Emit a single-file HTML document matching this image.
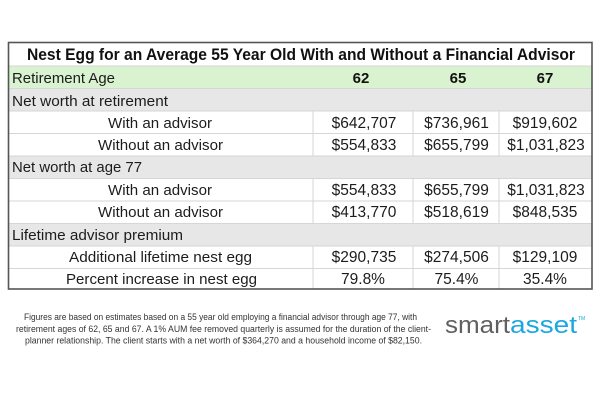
<!DOCTYPE html>
<html>
<head>
<meta charset="utf-8">
<style>
html,body{margin:0;padding:0;background:#fff;}
svg{display:block;}
text{font-family:"Liberation Sans",Arial,sans-serif;}
</style>
</head>
<body>
<svg width="600" height="400" viewBox="0 0 600 400" xmlns="http://www.w3.org/2000/svg">
  <rect x="0" y="0" width="600" height="400" fill="#ffffff"/>

  <!-- row backgrounds -->
  <rect x="8" y="66" width="584" height="22.5" fill="#d9f2d0"/>
  <rect x="8" y="88.5" width="584" height="22.5" fill="#e7e7e7"/>
  <rect x="8" y="156" width="584" height="22.5" fill="#e7e7e7"/>
  <rect x="8" y="223.5" width="584" height="22.5" fill="#e7e7e7"/>

  <!-- horizontal grid lines -->
  <g stroke="#d6d6d6" stroke-width="1">
    <line x1="8" y1="66" x2="592" y2="66"/>
    <line x1="8" y1="88.5" x2="592" y2="88.5"/>
    <line x1="8" y1="111" x2="592" y2="111"/>
    <line x1="8" y1="133.5" x2="592" y2="133.5"/>
    <line x1="8" y1="156" x2="592" y2="156"/>
    <line x1="8" y1="178.5" x2="592" y2="178.5"/>
    <line x1="8" y1="201" x2="592" y2="201"/>
    <line x1="8" y1="223.5" x2="592" y2="223.5"/>
    <line x1="8" y1="246" x2="592" y2="246"/>
    <line x1="8" y1="268.5" x2="592" y2="268.5"/>
  </g>
  <!-- vertical grid lines in white rows -->
  <g stroke="#d6d6d6" stroke-width="1">
    <line x1="313" y1="111" x2="313" y2="156"/>
    <line x1="413" y1="111" x2="413" y2="156"/>
    <line x1="499" y1="111" x2="499" y2="156"/>
    <line x1="313" y1="178.5" x2="313" y2="223.5"/>
    <line x1="413" y1="178.5" x2="413" y2="223.5"/>
    <line x1="499" y1="178.5" x2="499" y2="223.5"/>
    <line x1="313" y1="246" x2="313" y2="289"/>
    <line x1="413" y1="246" x2="413" y2="289"/>
    <line x1="499" y1="246" x2="499" y2="289"/>
  </g>

  <!-- outer border -->
  <rect x="8.5" y="42.5" width="583.5" height="246.5" fill="none" stroke="#555555" stroke-width="1.6"/>

  <!-- title -->
  <text x="27" y="60" font-size="17" font-weight="bold" fill="#111" textLength="548" lengthAdjust="spacingAndGlyphs">Nest Egg for an Average 55 Year Old With and Without a Financial Advisor</text>

  <!-- labels -->
  <g font-size="15" fill="#1c1c1c">
    <text x="12" y="83" textLength="103" lengthAdjust="spacingAndGlyphs">Retirement Age</text>
    <text x="12" y="106" textLength="156" lengthAdjust="spacingAndGlyphs">Net worth at retirement</text>
    <text x="108" y="128" textLength="104" lengthAdjust="spacingAndGlyphs">With an advisor</text>
    <text x="98" y="150" textLength="125" lengthAdjust="spacingAndGlyphs">Without an advisor</text>
    <text x="12" y="172" textLength="130" lengthAdjust="spacingAndGlyphs">Net worth at age 77</text>
    <text x="108" y="195" textLength="104" lengthAdjust="spacingAndGlyphs">With an advisor</text>
    <text x="98" y="217" textLength="125" lengthAdjust="spacingAndGlyphs">Without an advisor</text>
    <text x="12" y="240" textLength="171" lengthAdjust="spacingAndGlyphs">Lifetime advisor premium</text>
    <text x="69" y="262" textLength="183" lengthAdjust="spacingAndGlyphs">Additional lifetime nest egg</text>
    <text x="66" y="284" textLength="191" lengthAdjust="spacingAndGlyphs">Percent increase in nest egg</text>
  </g>

  <!-- header ages -->
  <g font-size="15" font-weight="bold" fill="#111" text-anchor="middle">
    <text x="361" y="83">62</text>
    <text x="458" y="83">65</text>
    <text x="545" y="83">67</text>
  </g>

  <!-- values -->
  <g font-size="15.5" fill="#1c1c1c" text-anchor="middle">
    <text x="364" y="128">$642,707</text>
    <text x="456.5" y="128">$736,961</text>
    <text x="545" y="128">$919,602</text>

    <text x="364" y="150">$554,833</text>
    <text x="456.5" y="150">$655,799</text>
    <text x="546" y="150">$1,031,823</text>

    <text x="364" y="195">$554,833</text>
    <text x="456.5" y="195">$655,799</text>
    <text x="546" y="195">$1,031,823</text>

    <text x="364" y="217">$413,770</text>
    <text x="456.5" y="217">$518,619</text>
    <text x="545" y="217">$848,535</text>

    <text x="364" y="262">$290,735</text>
    <text x="456.5" y="262">$274,506</text>
    <text x="545" y="262">$129,109</text>

    <text x="363" y="284">79.8%</text>
    <text x="456.5" y="284">75.4%</text>
    <text x="545" y="284">35.4%</text>
  </g>

  <!-- footer note -->
  <g font-size="9" fill="#333">
    <text x="24" y="320" textLength="393" lengthAdjust="spacingAndGlyphs">Figures are based on estimates based on a 55 year old employing a financial advisor through age 77, with</text>
    <text x="16" y="332" textLength="415" lengthAdjust="spacingAndGlyphs">retirement ages of 62, 65 and 67. A 1% AUM fee removed quarterly is assumed for the duration of the client-</text>
    <text x="25" y="343.5" textLength="397" lengthAdjust="spacingAndGlyphs">planner relationship. The client starts with a net worth of $364,270 and a household income of $82,150.</text>
  </g>

  <!-- logo -->
  <text x="445" y="333" font-size="24" fill="#606060" textLength="65" lengthAdjust="spacingAndGlyphs">smart</text>
  <text x="510" y="333" font-size="24" fill="#1ba7e0" textLength="67" lengthAdjust="spacingAndGlyphs">asset</text>
  <text x="578" y="320" font-size="5" fill="#1ba7e0">TM</text>
</svg>
</body>
</html>
